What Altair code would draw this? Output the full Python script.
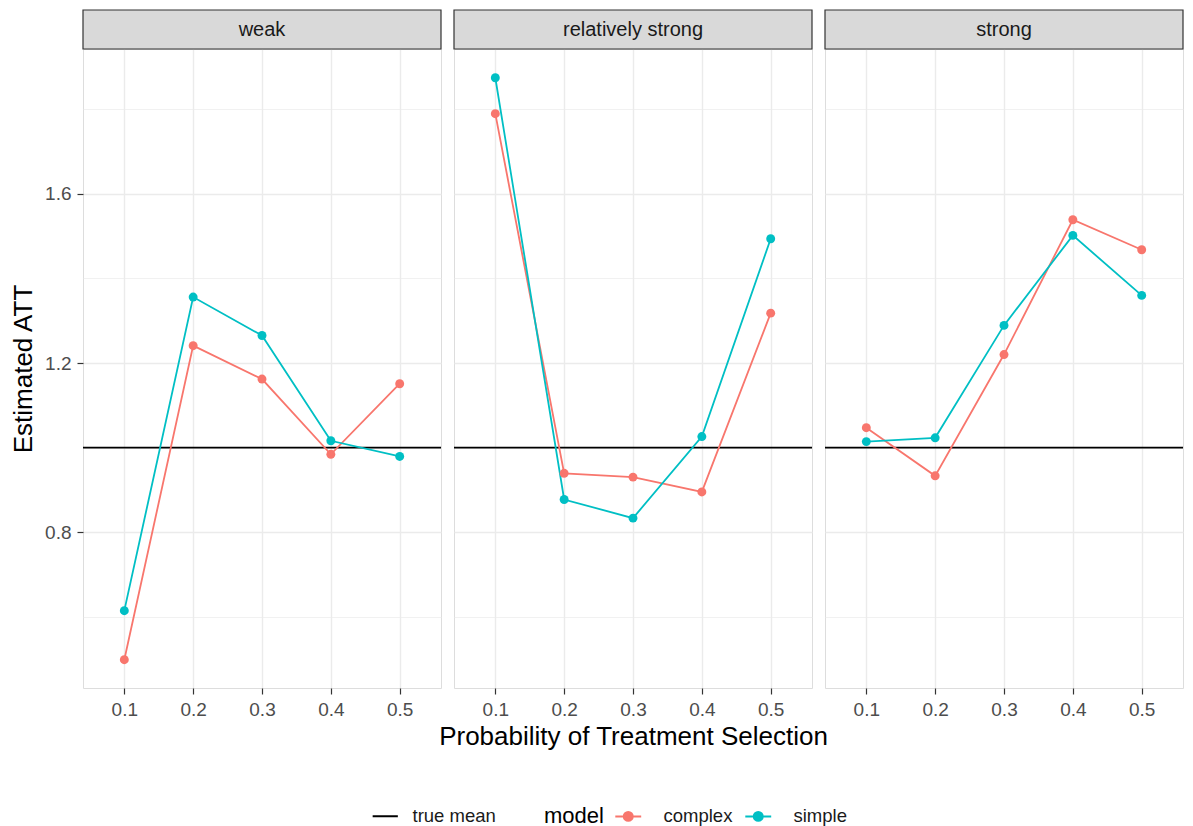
import altair as alt
import pandas as pd

# ---------------- data ----------------
panels = ["weak", "relatively strong", "strong"]
models = ["complex", "simple"]
model_colors = ["#F8766D", "#00BFC4"]
probs = [0.1, 0.2, 0.3, 0.4, 0.5]

weak_complex = [0.498, 1.241, 1.162, 0.984, 1.151]
weak_simple = [0.614, 1.356, 1.265, 1.016, 0.979]
rel_complex = [1.790, 0.939, 0.930, 0.895, 1.318]
rel_simple = [1.875, 0.877, 0.833, 1.026, 1.494]
strong_complex = [1.047, 0.933, 1.220, 1.539, 1.468]
strong_simple = [1.014, 1.023, 1.289, 1.502, 1.360]

true_mean = 1.0
true_mean_label = "true mean"
y_ticks = [0.6, 0.8, 1.0, 1.2, 1.4, 1.6, 1.8]
y_domain = [0.431, 1.943]
x_domain = [0.04, 0.56]

series = {
    "weak": {"complex": weak_complex, "simple": weak_simple},
    "relatively strong": {"complex": rel_complex, "simple": rel_simple},
    "strong": {"complex": strong_complex, "simple": strong_simple},
}

rows = []
for p in panels:
    for m in models:
        for x, v in zip(probs, series[p][m]):
            rows.append({"panel": p, "model": m, "prob": x, "att": v})
df = pd.DataFrame(rows)
mean_df = pd.DataFrame({"value": [true_mean], "label": [true_mean_label]})

# ---------------- style ----------------
FONT = "Liberation Sans"
W, H = 358, 639
STRIP_H = 39
GRID = "#EBEBEB"
DARK = "#333333"
major_test = "round(datum.value * 10) % 4 == 0"

# legend positions are relative to the top-left corner of the first panel's plot area
LEG_Y = 758

dot_line_symbol = (
    "M-1.85,0L1.85,0"
    "M0.64,0A0.64,0.64,0,1,1,-0.64,0A0.64,0.64,0,1,1,0.64,0Z"
    "M0.43,0A0.43,0.43,0,1,1,-0.43,0A0.43,0.43,0,1,1,0.43,0Z"
    "M0.21,0A0.21,0.21,0,1,1,-0.21,0A0.21,0.21,0,1,1,0.21,0Z"
)

color_legend = alt.Legend(
    title="model", orient="none", legendX=461, legendY=LEG_Y,
    direction="horizontal", titleOrient="left", titleFontSize=22,
    titleFont=FONT, titleFontWeight="normal", titleColor="black",
    titlePadding=15, titleBaseline="middle",
    labelFont=FONT, labelFontSize=18.5, labelColor="#1A1A1A",
    symbolType=dot_line_symbol, symbolSize=196, symbolStrokeWidth=2,
    labelOffset=26, columnPadding=8,
)
stroke_legend = alt.Legend(
    title=None, orient="none", legendX=293, legendY=LEG_Y,
    labelFont=FONT, labelFontSize=18.5, labelColor="#1A1A1A",
    symbolType="M-1.8,0L1.8,0", symbolSize=196, symbolStrokeWidth=2, labelOffset=18,
)

color_enc = alt.Color("model:N", scale=alt.Scale(domain=models, range=model_colors),
                      legend=color_legend)


def y_axis(first):
    common = dict(
        values=y_ticks, gridColor=GRID, domain=False, minExtent=0,
        gridWidth={"condition": {"test": major_test, "value": 1.4}, "value": 0.7},
    )
    if first:
        return alt.Axis(
            title="Estimated ATT", format=".1f",
            labelExpr=f"{major_test} ? datum.label : ''",
            tickOpacity={"condition": {"test": major_test, "value": 1}, "value": 0},
            tickColor=DARK, tickSize=6, tickWidth=1.2, labelPadding=6,
            labelColor="#4D4D4D", labelFontSize=19, labelFont=FONT,
            titleFont=FONT, titleFontSize=26, titleFontWeight="normal",
            titleColor="black", titlePadding=8, **common)
    return alt.Axis(title=None, labels=False, ticks=False, **common)


def x_axis(with_title):
    common = dict(
        values=probs, format=".1f", gridColor=GRID, gridWidth=1.4, domain=False,
        tickColor=DARK, tickSize=6, tickWidth=1.2, labelPadding=6, labelFlush=False,
        labelColor="#4D4D4D", labelFontSize=19, labelFont=FONT,
    )
    if with_title:
        return alt.Axis(title="Probability of Treatment Selection", titleFont=FONT,
                        titleFontSize=26, titleFontWeight="normal", titleColor="black",
                        titlePadding=4, **common)
    return alt.Axis(title=None, **common)


def panel_chart(i, p):
    y_enc = alt.Y("att:Q", scale=alt.Scale(domain=y_domain, nice=False, zero=False),
                  axis=y_axis(i == 0))
    x_enc = alt.X("prob:Q", scale=alt.Scale(domain=x_domain, nice=False, zero=False),
                  axis=x_axis(i == 1))
    base = alt.Chart(df).transform_filter(alt.datum.panel == p)
    rule = alt.Chart(mean_df).mark_rule(strokeWidth=1.8).encode(
        y=alt.Y("value:Q", scale=alt.Scale(domain=y_domain, nice=False, zero=False),
                axis=y_axis(i == 0)),
        stroke=alt.Stroke("label:N", scale=alt.Scale(domain=[true_mean_label], range=["black"]),
                          legend=stroke_legend),
    )
    line = base.mark_line(strokeWidth=1.8).encode(x=x_enc, y=y_enc, color=color_enc,
                                                  detail="model:N")
    pts = base.mark_point(filled=True, size=80, opacity=1).encode(x=x_enc, y=y_enc,
                                                                   color=color_enc)
    strip_src = alt.Chart(pd.DataFrame({"panel": [p]}))
    strip_bg = strip_src.mark_rect(
        fill="#D9D9D9", stroke=DARK, strokeWidth=1.2
    ).encode(x=alt.value(0), x2=alt.value(W), y=alt.value(-STRIP_H), y2=alt.value(0))
    strip_txt = strip_src.mark_text(
        font=FONT, fontSize=20, color="#1A1A1A", baseline="middle", align="center"
    ).encode(text="panel:N", x=alt.value(W / 2), y=alt.value(-STRIP_H / 2))
    return alt.layer(rule, line, pts, strip_bg, strip_txt).properties(width=W, height=H)


chart = alt.hconcat(*[panel_chart(i, p) for i, p in enumerate(panels)],
                    spacing=13, bounds="flush").properties(
    padding={"left": 2, "top": 0, "right": 0, "bottom": 0}
).configure_view(stroke=DARK, strokeWidth=1.2).configure(font=FONT)

chart.save("out.html", embed_options={"renderer": "svg", "actions": False})
